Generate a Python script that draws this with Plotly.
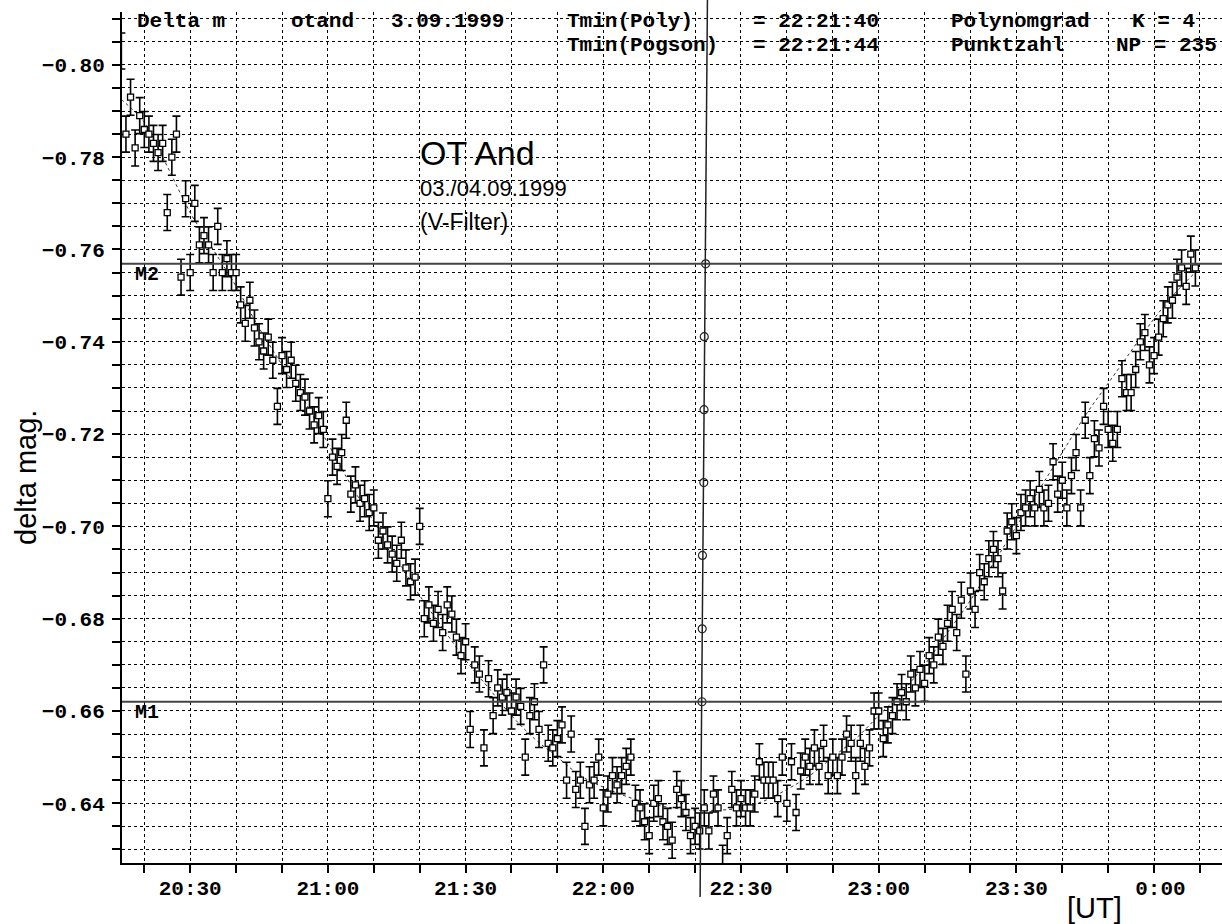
import numpy as np
import plotly.graph_objects as go

# ---------------- data ----------------
# observation times in minutes after 20:00 UT (one exposure per minute, 20:15 ... 0:09 UT)
obs_minutes = list(range(15, 250))
delta_mag = [
    -0.803, -0.785, -0.793, -0.782, -0.789, -0.786, -0.785, -0.783, -0.781, -0.783,
    -0.768, -0.780, -0.785, -0.754, -0.771, -0.755, -0.770, -0.761, -0.763, -0.761,
    -0.755, -0.765, -0.755, -0.758, -0.755, -0.755, -0.748, -0.744, -0.749, -0.743,
    -0.740, -0.738, -0.741, -0.736, -0.726, -0.737, -0.734, -0.736, -0.731, -0.729,
    -0.728, -0.725, -0.722, -0.724, -0.721, -0.706, -0.715, -0.713, -0.716, -0.723,
    -0.707, -0.709, -0.705, -0.706, -0.703, -0.704, -0.697, -0.699, -0.696, -0.694,
    -0.692, -0.697, -0.691, -0.688, -0.689, -0.700, -0.680, -0.683, -0.679, -0.682,
    -0.677, -0.683, -0.681, -0.676, -0.672, -0.675, -0.656, -0.670, -0.668, -0.652,
    -0.667, -0.659, -0.665, -0.663, -0.664, -0.660, -0.663, -0.661, -0.650, -0.659,
    -0.662, -0.656, -0.670, -0.653, -0.652, -0.654, -0.657, -0.645, -0.655, -0.643,
    -0.645, -0.635, -0.644, -0.645, -0.650, -0.639, -0.642, -0.646, -0.644, -0.646,
    -0.648, -0.650, -0.640, -0.639, -0.636, -0.633, -0.640, -0.641, -0.636, -0.635,
    -0.632, -0.643, -0.641, -0.638, -0.633, -0.635, -0.634, -0.639, -0.634, -0.642,
    -0.639, -0.627, -0.633, -0.643, -0.639, -0.641, -0.639, -0.639, -0.642, -0.649,
    -0.645, -0.645, -0.645, -0.641, -0.650, -0.640, -0.649, -0.638, -0.647, -0.650,
    -0.648, -0.652, -0.648, -0.653, -0.646, -0.650, -0.646, -0.650, -0.655, -0.653,
    -0.646, -0.653, -0.648, -0.652, -0.660, -0.660, -0.654, -0.657, -0.659, -0.662,
    -0.664, -0.662, -0.668, -0.665, -0.669, -0.666, -0.672, -0.670, -0.676, -0.674,
    -0.679, -0.682, -0.677, -0.684, -0.668, -0.686, -0.682, -0.690, -0.688, -0.693,
    -0.695, -0.693, -0.686, -0.699, -0.701, -0.698, -0.703, -0.704, -0.706, -0.704,
    -0.708, -0.704, -0.705, -0.714, -0.707, -0.710, -0.704, -0.711, -0.716, -0.704,
    -0.723, -0.711, -0.719, -0.717, -0.726, -0.721, -0.718, -0.721, -0.732, -0.729,
    -0.729, -0.734, -0.740, -0.742, -0.735, -0.737, -0.741, -0.745, -0.748, -0.749,
    -0.754, -0.756, -0.752, -0.759, -0.756,
]
mag_error = 0.0039  # error bars look about +/-0.004 everywhere

# polynomial fit curve (K = 4)
fit_minutes = [15, 20, 25, 30, 35, 40, 45, 50, 55, 60, 65, 70, 75, 80, 85, 90, 95, 100,
               105, 110, 115, 120, 125, 130, 135, 140, 145, 150, 155, 160, 165, 170, 175,
               180, 185, 190, 195, 200, 205, 210, 215, 220, 225, 230, 235, 240, 245, 250]
fit_mag = [-0.7925, -0.7875, -0.778, -0.768, -0.760, -0.752, -0.743, -0.735, -0.727, -0.718,
           -0.709, -0.701, -0.693, -0.685, -0.678, -0.671, -0.665, -0.659, -0.654, -0.650,
           -0.646, -0.6435, -0.6415, -0.640, -0.639, -0.6385, -0.6385, -0.639, -0.6405, -0.643,
           -0.646, -0.650, -0.654, -0.659, -0.664, -0.670, -0.677, -0.684, -0.692, -0.700,
           -0.708, -0.716, -0.724, -0.731, -0.738, -0.745, -0.751, -0.756]

# levels M2 / M1 and the Pogson bisector points between them
level_names = ["M2", "M1"]
level_mag = [-0.7569, -0.6620]
bisector_minutes = [142.3, 142.0, 141.95, 141.9, 141.6, 141.55, 141.5]
bisector_mag = [-0.7569, -0.7411, -0.7253, -0.7095, -0.6937, -0.6778, -0.6620]

# axis ticks
x_tick_minutes = list(range(20, 251, 10))
x_tick_names = {30: "20:30", 60: "21:00", 90: "21:30", 120: "22:00",
                150: "22:30", 180: "23:00", 210: "23:30", 240: " 0:00"}
y_tick_milli = list(range(-810, -625, 5))

header_row1 = [("Delta m", 135), ("otand", 289), ("3.09.1999", 389), ("Tmin(Poly)", 565),
               ("= 22:21:40", 751), ("Polynomgrad", 949), ("K = 4", 1130)]
header_row2 = [("Tmin(Pogson)", 565), ("= 22:21:44", 751), ("Punktzahl", 949),
               ("NP = 235", 1114)]

# ---------------- layout geometry ----------------
W, H = 1222, 924
L, R, T, B = 122, 1222, 12, 863
X_RANGE = [15.14, 254.8]
Y_RANGE = [-0.62706, -0.81146]  # reversed (magnitudes)


def paper_x(px):
    return (px - L) / (R - L)


def paper_y(py):
    return (B - py) / (B - T)


MONO = "Liberation Mono"
SANS = "Liberation Sans"

fig = go.Figure()

# polynomial fit
fig.add_trace(go.Scatter(
    x=fit_minutes, y=fit_mag, mode="lines",
    line=dict(shape="spline", width=1, color="#333333", dash="dot"),
    hoverinfo="skip"))

# measurements with error bars
fig.add_trace(go.Scatter(
    x=obs_minutes, y=delta_mag, mode="markers",
    marker=dict(symbol="square", size=6, color="white", line=dict(width=1.3, color="black")),
    error_y=dict(type="constant", value=mag_error, color="black", thickness=1.6, width=4),
    cliponaxis=False))

# bisector points
fig.add_trace(go.Scatter(
    x=bisector_minutes, y=bisector_mag, mode="markers",
    marker=dict(symbol="circle-open", size=8, color="#222222", line=dict(width=1.2)),
    cliponaxis=False))

# M1 / M2 horizontal lines + labels
for name, lv in zip(level_names, level_mag):
    fig.add_shape(type="line", xref="paper", x0=0, x1=1, yref="y", y0=lv, y1=lv,
                  line=dict(color="#444444", width=2))
    fig.add_annotation(x=paper_x(133), xref="paper", y=lv, yref="y", yshift=-11,
                       text=name, showarrow=False, xanchor="left", yanchor="middle",
                       font=dict(family=MONO, size=20, color="black", weight="bold"))

# bisector line, extended over the whole height (derived from the bisector points)
slope, icpt = np.polyfit(bisector_mag, bisector_minutes, 1)
py_top, py_bot = 0, 897
v_top = Y_RANGE[0] + (Y_RANGE[1] - Y_RANGE[0]) * paper_y(py_top)
v_bot = Y_RANGE[0] + (Y_RANGE[1] - Y_RANGE[0]) * paper_y(py_bot)
fig.add_shape(type="line", xref="x", yref="paper",
              x0=slope * v_bot + icpt, y0=paper_y(py_bot),
              x1=slope * v_top + icpt, y1=paper_y(py_top),
              line=dict(color="#222222", width=1.5))

# header texts
for row, ypx in ((header_row1, 22), (header_row2, 45)):
    for txt, xpx in row:
        fig.add_annotation(x=paper_x(xpx), y=paper_y(ypx), xref="paper", yref="paper",
                           text=txt, showarrow=False, xanchor="left", yanchor="middle",
                           font=dict(family=MONO, size=21, color="black", weight="bold"))

# object text
fig.add_annotation(x=paper_x(418), y=paper_y(153), xref="paper", yref="paper", text="OT And",
                   showarrow=False, xanchor="left", yanchor="middle",
                   font=dict(family=SANS, size=34, color="black"))
fig.add_annotation(x=paper_x(418), y=paper_y(188), xref="paper", yref="paper",
                   text="03./04.09.1999", showarrow=False, xanchor="left", yanchor="middle",
                   font=dict(family=SANS, size=22, color="black"))
fig.add_annotation(x=paper_x(418), y=paper_y(222), xref="paper", yref="paper",
                   text="(V-Filter)", showarrow=False, xanchor="left", yanchor="middle",
                   font=dict(family=SANS, size=23, color="black"))

# axis titles
fig.add_annotation(x=paper_x(26), y=paper_y(477), xref="paper", yref="paper",
                   text="delta mag.", textangle=-90, showarrow=False,
                   xanchor="center", yanchor="middle",
                   font=dict(family=SANS, size=29, color="black"))
fig.add_annotation(x=paper_x(1094), y=paper_y(908), xref="paper", yref="paper",
                   text="[UT]", showarrow=False, xanchor="center", yanchor="middle",
                   font=dict(family=SANS, size=29, color="black"))

grid = dict(showgrid=True, gridcolor="black", gridwidth=1, griddash="3px,3px",
            zeroline=False, showline=True, linecolor="black", linewidth=2,
            ticks="outside", ticklen=8, tickwidth=1.5, tickcolor="black",
            tickfont=dict(family=MONO, size=21, color="black", weight="bold"))

fig.update_xaxes(range=X_RANGE, tickmode="array", tickvals=x_tick_minutes,
                 ticktext=[x_tick_names.get(m, "") for m in x_tick_minutes],
                 ticklabelstandoff=-3, **grid)
fig.update_yaxes(range=Y_RANGE, tickmode="array", tickvals=[t / 1000 for t in y_tick_milli],
                 ticktext=[(f"{t / 1000:.2f}".replace("-", "\u2212") if t % 20 == 0 else "")
                           for t in y_tick_milli],
                 ticklabelstandoff=3, **grid)

fig.update_layout(width=W, height=H, showlegend=False,
                  margin=dict(l=L, r=W - R, t=T, b=H - B, pad=0),
                  paper_bgcolor="white", plot_bgcolor="white")

fig.write_html("out.html", config={"displayModeBar": False},
               post_script="document.body.style.margin='0';document.body.style.overflow='hidden';")
